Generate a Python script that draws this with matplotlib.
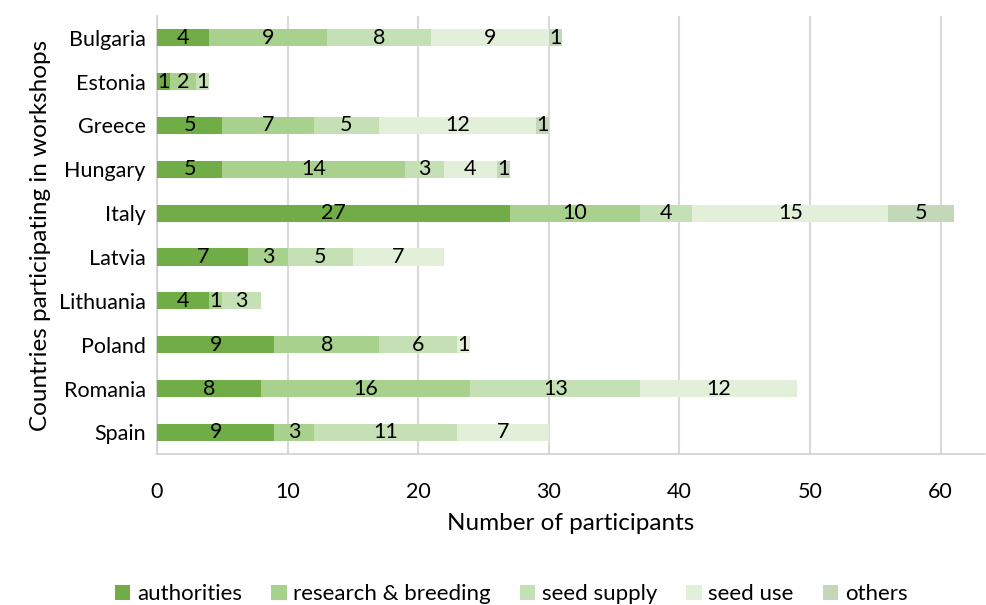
import numpy as np
import matplotlib
matplotlib.use("Agg")
import matplotlib.pyplot as plt

countries = ["Bulgaria", "Estonia", "Greece", "Hungary", "Italy",
             "Latvia", "Lithuania", "Poland", "Romania", "Spain"]
groups = ["authorities", "research & breeding", "seed supply", "seed use", "others"]

authorities = [4, 1, 5, 5, 27, 7, 4, 9, 8, 9]
research = [9, 2, 7, 14, 10, 3, 1, 8, 16, 3]
seed_supply = [8, 1, 5, 3, 4, 5, 3, 6, 13, 11]
seed_use = [9, 0, 12, 4, 15, 7, 0, 1, 12, 7]
others = [1, 0, 1, 1, 5, 0, 0, 0, 0, 0]

colors = ["#70ad47", "#a9d18e", "#c5e0b4", "#e2f0d9", "#c3d8b8"]

plt.rcParams["font.family"] = ["Lato", "DejaVu Sans"]

fig = plt.figure(figsize=(9.87, 6.05), dpi=100)
ax = fig.add_axes([0.159, 0.249, 0.839, 0.725])

y = np.arange(len(countries))
left = np.zeros(len(countries))
for name, vals, col in zip(groups, [authorities, research, seed_supply, seed_use, others], colors):
    vals = np.array(vals, dtype=float)
    bars = ax.barh(y, vals, left=left, height=0.39, color=col, label=name, zorder=3)
    labels = [str(int(v)) if v > 0 else "" for v in vals]
    ax.bar_label(bars, labels=labels, label_type="center", fontsize=15.5, color="black")
    left += vals

ax.set_ylim(len(countries) - 0.5, -0.5)
ax.set_yticks(y)
ax.set_yticklabels(countries, fontsize=15.5)
ax.set_xlim(0, 63.4)
ax.set_xticks(range(0, 61, 10))
ax.tick_params(axis="x", labelsize=15.5, length=0, pad=20)
ax.tick_params(axis="y", length=0, pad=8)
ax.grid(axis="x", color="#d9d9d9", linewidth=1.5, zorder=0)

for s in ["top", "right"]:
    ax.spines[s].set_visible(False)
ax.spines["left"].set_color("#d0d0d0")
ax.spines["bottom"].set_color("#d0d0d0")
ax.spines["left"].set_linewidth(1.2)
ax.spines["bottom"].set_linewidth(1.2)

ax.set_xlabel("Number of participants", fontsize=17.5, labelpad=8)
ax.set_ylabel("Countries participating in workshops", fontsize=17.5, labelpad=6)

fig.legend(loc="lower center", bbox_to_anchor=(0.518, -0.032), ncol=5, frameon=False,
           fontsize=16, handlelength=0.7, handleheight=0.7, handletextpad=0.3,
           columnspacing=1.3)

fig.savefig("out.png", dpi=100)
